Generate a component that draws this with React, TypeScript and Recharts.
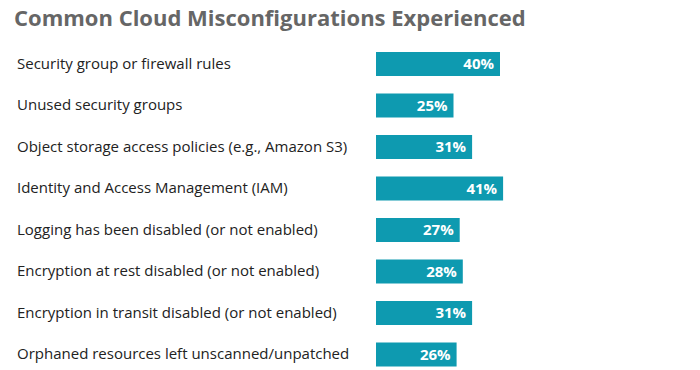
import React from "react";
import { BarChart, Bar, XAxis, YAxis, LabelList } from "recharts";

const categories = [
  "Security group or firewall rules",
  "Unused security groups",
  "Object storage access policies (e.g., Amazon S3)",
  "Identity and Access Management (IAM)",
  "Logging has been disabled (or not enabled)",
  "Encryption at rest disabled (or not enabled)",
  "Encryption in transit disabled (or not enabled)",
  "Orphaned resources left unscanned/unpatched",
];
const values = [40, 25, 31, 41, 27, 28, 31, 26];

const data = categories.map((c, i) => ({ name: c, value: values[i] }));

const FONT = "'Open Sans', 'Noto Sans', sans-serif";

const LeftTick = (props: any) => {
  const { y, payload } = props;
  return (
    <text x={17} y={y} dy={5} textAnchor="start" fontFamily={FONT} fontSize={15} fill="#222">
      {payload.value}
    </text>
  );
};

const ValueLabel = (props: any) => {
  const { x, y, width, height, value } = props;
  return (
    <text
      x={x + width - 6}
      y={y + height / 2}
      dy={5}
      textAnchor="end"
      fontFamily={FONT}
      fontWeight={700}
      fontSize={15}
      fill="#fff"
    >
      {value}%
    </text>
  );
};

export default function App() {
  return (
    <div style={{ position: "absolute", left: 0, top: 0, width: 700, height: 370, background: "#fff", overflow: "hidden" }}>
      <div
        style={{
          position: "absolute",
          left: 14,
          top: 2,
          fontFamily: FONT,
          fontWeight: 700,
          fontSize: 22,
          color: "#666",
          whiteSpace: "nowrap",
        }}
      >
        Common Cloud Misconfigurations Experienced
      </div>
      <BarChart
        width={700}
        height={375}
        data={data}
        layout="vertical"
        margin={{ top: 43, right: 14, bottom: 0, left: 0 }}
        barSize={24}
      >
        <XAxis type="number" domain={[0, 100]} hide />
        <YAxis
          type="category"
          dataKey="name"
          width={376}
          axisLine={false}
          tickLine={false}
          tick={<LeftTick />}
          interval={0}
        />
        <Bar dataKey="value" fill="#0e9ab0" isAnimationActive={false}>
          <LabelList dataKey="value" content={<ValueLabel />} />
        </Bar>
      </BarChart>
    </div>
  );
}
